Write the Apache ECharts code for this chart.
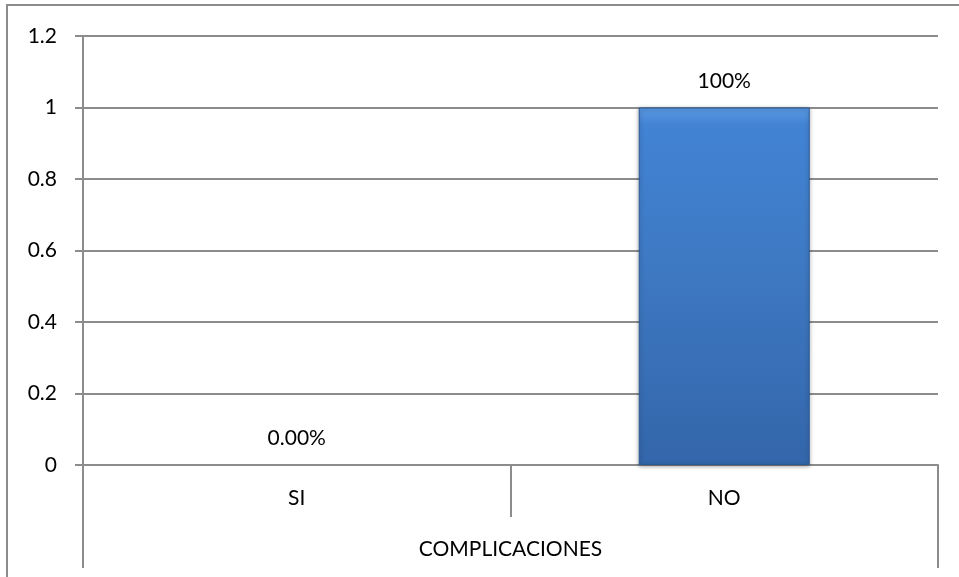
<!DOCTYPE html>
<html>
<head>
<meta charset="utf-8">
<script src="https://cdn.jsdelivr.net/npm/echarts@6/dist/echarts.min.js"></script>
<style>
html,body{margin:0;padding:0;background:#fff;}
#chart{width:959px;height:577px;}
</style>
</head>
<body>
<div id="chart"></div>
<script>
const categories = ['SI', 'NO'];
const values = [0, 1];
const valueLabels = ['0.00%', '100%'];
const groupLabel = ['COMPLICACIONES'];

const FONT = 'Lato, "Open Sans", sans-serif';
const FS = 21;
const GRAY = '#8c8c8c';

const barStyle = {
  color: {
    type: 'linear', x: 0, y: 0, x2: 0, y2: 1,
    colorStops: [
      {offset: 0, color: '#5a98e0'},
      {offset: 0.05, color: '#4283d4'},
      {offset: 0.5, color: '#3d77c0'},
      {offset: 1, color: '#3366aa'}
    ]
  },
  borderColor: '#2c5a96',
  borderWidth: 1,
  shadowColor: 'rgba(0,0,0,0.35)',
  shadowBlur: 4,
  shadowOffsetY: 1
};
const emptyStyle = {color: 'transparent', borderWidth: 0, shadowBlur: 0, shadowColor: 'transparent'};

const chart = echarts.init(document.getElementById('chart'), null, {renderer: 'canvas'});
chart.setOption({
  animation: false,
  backgroundColor: '#fff',
  graphic: [{
    type: 'rect', silent: true,
    shape: {x: 7, y: 5, width: 1000, height: 650},
    style: {fill: 'none', stroke: GRAY, lineWidth: 2}
  }],
  grid: {left: 83, right: 21, top: 36, bottom: 112, containLabel: false},
  xAxis: [{
    type: 'category',
    data: categories,
    position: 'bottom',
    axisLine: {show: true, lineStyle: {color: GRAY, width: 2}},
    axisTick: {show: true, length: 52, alignWithLabel: false, lineStyle: {color: GRAY, width: 2}},
    axisLabel: {color: '#000', fontFamily: FONT, fontSize: FS, margin: 23}
  }, {
    type: 'category',
    data: groupLabel,
    position: 'bottom',
    axisLine: {show: false},
    axisTick: {show: true, length: 103, lineStyle: {color: GRAY, width: 2}},
    axisLabel: {color: '#000', fontFamily: FONT, fontSize: FS, margin: 74}
  }],
  yAxis: {
    type: 'value',
    min: 0, max: 1.2, interval: 0.2,
    axisLine: {show: true, lineStyle: {color: GRAY, width: 2}},
    axisTick: {show: true, length: 8, lineStyle: {color: GRAY, width: 2}},
    axisLabel: {
      color: '#000', fontFamily: FONT, fontSize: FS, margin: 26,
      formatter: v => String(Math.round(v * 10) / 10)
    },
    splitLine: {show: true, lineStyle: {color: GRAY, width: 2}}
  },
  series: [{
    type: 'bar',
    xAxisIndex: 0,
    data: values.map(v => ({value: v, itemStyle: v === 0 ? emptyStyle : barStyle})),
    barWidth: 171,
    label: {
      show: true, position: 'top', distance: 16,
      color: '#000', fontFamily: FONT, fontSize: FS,
      formatter: p => valueLabels[p.dataIndex]
    }
  }]
});
</script>
</body>
</html>
